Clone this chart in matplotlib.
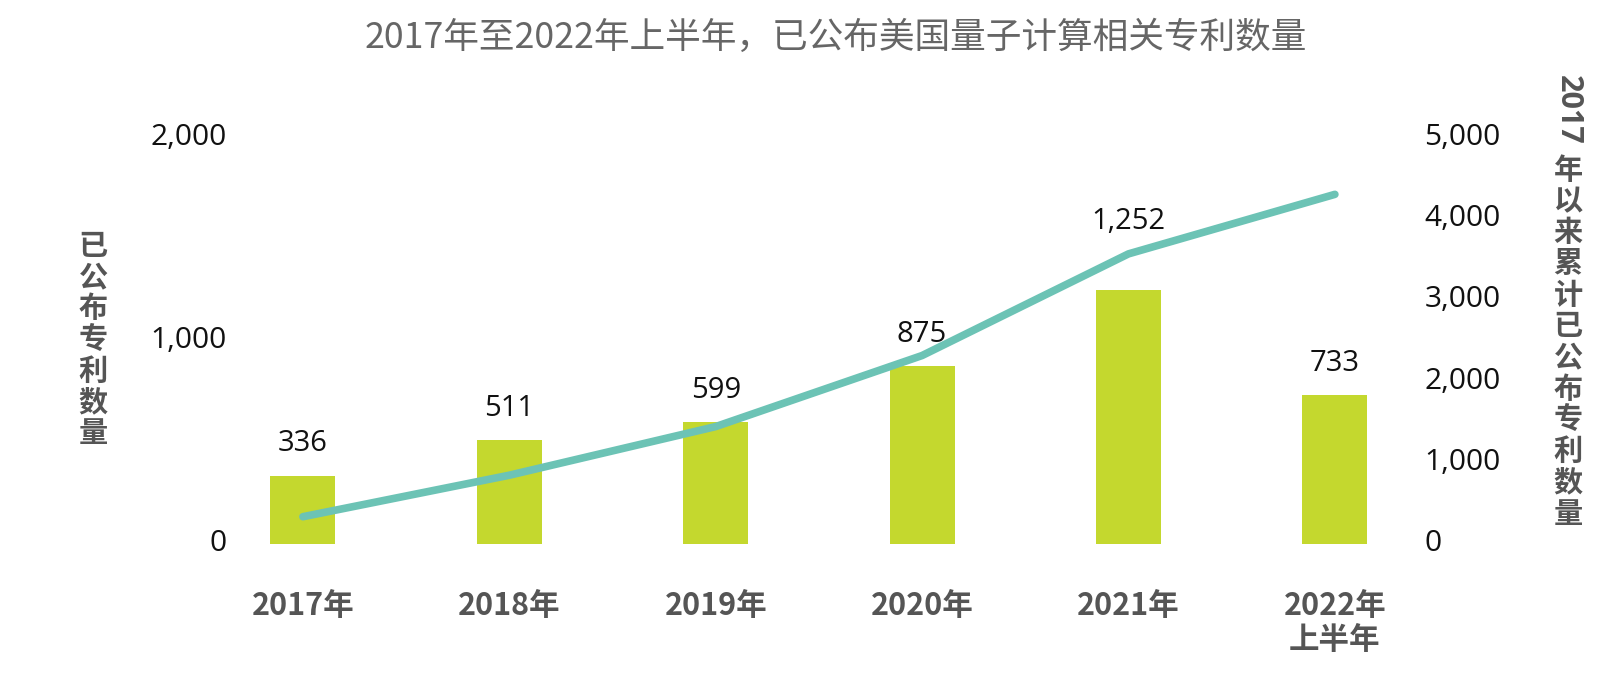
import matplotlib
matplotlib.use("Agg")
import matplotlib.pyplot as plt
import matplotlib.transforms as mtrans
import numpy as np

categories = ["2017年", "2018年", "2019年", "2020年", "2021年", "2022年\n上半年"]
annual = [336, 511, 599, 875, 1252, 733]
cumulative = [336, 847, 1446, 2321, 3573, 4306]
left_ticks = [0, 1000, 2000]
right_ticks = [0, 1000, 2000, 3000, 4000, 5000]

title = "2017年至2022年上半年，已公布美国量子计算相关专利数量"
left_label = "已公布专利数量"
right_label_num = "2017"
right_label_cjk = "年以来累计已公布专利数量"

CJK = ["Noto Sans CJK SC", "DejaVu Sans"]
NUM = ["Open Sans", "Noto Sans CJK SC", "DejaVu Sans"]
plt.rcParams['font.family'] = NUM

BAR = "#C4D82E"
LINE = "#6CC3B5"
GRAY = "#555555"
TXT = "#111111"

W, H = 1614, 699
fig = plt.figure(figsize=(W/100, H/100), dpi=100)
ax_left, ax_right, ax_bottom, ax_top = 235, 1416, 544, 138
ax = fig.add_axes([ax_left/W, (H-ax_bottom)/H, (ax_right-ax_left)/W, (ax_bottom-ax_top)/H])
x = np.arange(len(categories))
ax.bar(x, annual, width=0.315, color=BAR, zorder=2)
ax.set_ylim(0, 2000)
ax.set_xlim(-0.329, 5.393)
ax.set_yticks(left_ticks)
ax.set_yticklabels([f"{v:,}" for v in left_ticks], fontsize=21.5, color=TXT, family=NUM)
ax.set_xticks(x)
ax.set_xticklabels(categories, fontsize=22, color=GRAY, fontweight="bold", family=CJK,
                   linespacing=1.08, va="top")
ax.tick_params(axis="y", length=0, pad=6)
ax.tick_params(axis="x", length=0, pad=33)
for s in ax.spines.values():
    s.set_visible(False)

up = mtrans.ScaledTranslation(0, 4/100, fig.dpi_scale_trans)
for lab in ax.get_yticklabels():
    lab.set_transform(lab.get_transform() + up)

label_offsets = [23, 23, 23, 23, 49, 23]
for xi, v, off in zip(x, annual, label_offsets):
    ax.annotate(f"{v:,}", (xi, v), xytext=(0, off), textcoords="offset points",
                ha="center", va="center", fontsize=21, color=TXT, family=NUM)

ax2 = ax.twinx()
ax2.plot(x, cumulative, color=LINE, lw=5.5, solid_capstyle="round", solid_joinstyle="round", zorder=3)
ax2.set_ylim(0, 5000)
ax2.set_yticks(right_ticks)
ax2.set_yticklabels([f"{v:,}" for v in right_ticks], fontsize=21.5, color=TXT, family=NUM)
ax2.tick_params(axis="y", length=0, pad=6)
for s in ax2.spines.values():
    s.set_visible(False)
for lab in ax2.get_yticklabels():
    lab.set_transform(lab.get_transform() + up)

fig.text(836/W, 1 - 38/H, title, ha="center", va="center", fontsize=25.7, color="#666666", family=CJK)

# left vertical label: upright stacked characters
for i, ch in enumerate(left_label):
    fig.text(93/W, 1 - (246 + i*31.2)/H, ch, ha="center", va="center", fontsize=21,
             fontweight="bold", color=GRAY, family=CJK)

# right vertical label: rotated digits, then upright stacked characters
fig.text(1568/W, 1 - 110/H, right_label_num, ha="center", va="center", rotation=270,
         fontsize=22, fontweight="bold", color=GRAY, family=NUM)
for i, ch in enumerate(right_label_cjk):
    fig.text(1568/W, 1 - (169.5 + i*31.3)/H, ch, ha="center", va="center", fontsize=21,
             fontweight="bold", color=GRAY, family=CJK)

fig.savefig("out.png", dpi=100, facecolor="white")
